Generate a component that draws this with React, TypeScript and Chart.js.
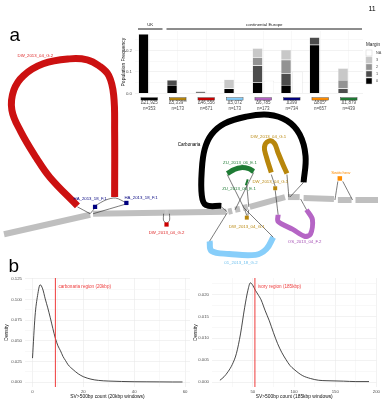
import React, { useEffect, useRef } from "react";
import { Chart, registerables } from "chart.js";
Chart.register(...registerables);

const FONT = "'Liberation Sans', Arial, sans-serif";
const GRID_MAJOR = "#e4e4e4";
const GRID_MINOR = "#f1f1f1";
const AXIS_TEXT = "#4d4d4d";

// ---------------- Panel a: population frequency bars ----------------
const SV_LABELS = ["Δ21,925", "Δ5,339**", "Δ46,556", "Δ5,072", "Δ6,785", "Δ399", "Δ805*", "Δ1,879"];
const SV_N = ["n=353", "n=173", "n=671", "n=173", "n=173", "n=734", "n=657", "n=439"];
const SV_COLORS = ["#000000", "#b8860b", "#cc0000", "#87cefa", "#b565c5", "#00007f", "#ff8c00", "#1e7b34"];
const MARGIN_0 = [0.278, 0.039, 0.006, 0.023, 0.052, 0.039, 0.227, 0];
const MARGIN_1 = [0, 0.023, 0.002, 0, 0.078, 0.055, 0.036, 0.023];
const MARGIN_2 = [0, 0, 0, 0, 0.039, 0.063, 0, 0.039];
const MARGIN_3 = [0, 0, 0, 0.042, 0.042, 0.047, 0, 0.055];
const MARGIN_NA = [0, 0, 0, 0, 0.059, 0.101, 0.003, 0];
const FREQ_MAJOR = [0, 0.1, 0.2];
const FREQ_MINOR = [0.05, 0.15, 0.25];
const REGIONS = [
  { label: "UK", from: 0, to: 0 },
  { label: "continental Europe", from: 1, to: 7 },
];
const MARGIN_LEGEND = [
  { label: "NA", color: "#ffffff" },
  { label: "3", color: "#c8c8c8" },
  { label: "2", color: "#939393" },
  { label: "1", color: "#4d4d4d" },
  { label: "0", color: "#000000" },
];

// ---------------- Panel a: graph illustration (drawing units) ----------------
const GRAY = "#bfbfbf";
const BACKBONE = [
  [0, 235, 88, 215],
  [91, 214, 227, 212],
  [229, 212, 233, 211],
  [236, 210, 241, 209],
  [244, 208, 249, 207],
  [251, 207, 287, 197],
  [290, 197, 302, 197],
  [306, 198, 337, 199],
  [341, 200, 355, 200],
  [359, 200, 382, 200],
];
const RED_LOOP = [75, 206, 47, 177, 33, 157, 17, 130, 8, 108, 10, 88, 20, 73, 40, 61, 67, 56, 85, 57, 97, 63, 107, 73, 112, 93, 113, 130, 113, 197];
const CARBONARIA = [222, 206, 206, 205, 202, 195, 202, 170, 205, 148, 212, 133, 225, 122, 247, 115, 270, 113, 289, 119, 302, 133, 308, 155, 306, 182];
const GOLD_HAIRPIN = [273, 172, 268, 156, 266, 146, 270, 140, 276, 142, 280, 152, 285, 164, 289, 173];
const GREEN_ARC = [228, 173, 235, 169, 242, 167, 250, 168, 255, 171];
const GREEN_SMALL = [247, 185, 249, 179];
const BLUE_LOOP = [210, 242, 212, 252, 230, 255, 257, 256, 268, 250, 275, 238];
const PURPLE_LOOP = [280, 215, 280, 222, 295, 230, 307, 237, 313, 235, 315, 220, 309, 210];
const THIN_LINKS = [
  [75, 207, 88, 214],
  [88, 214, 93, 208],
  [93, 206, 104, 200, 114, 198, 125, 203],
  [125, 204, 91, 214],
  [163, 214, 163, 221, 166, 224],
  [169, 214, 169, 221, 166, 224],
  [222, 207, 228, 212],
  [306, 182, 292, 197],
  [289, 174, 291, 197],
  [273, 174, 277, 186],
  [277, 190, 280, 215],
  [210, 242, 228, 213],
  [275, 238, 245, 208],
  [309, 210, 303, 199],
  [228, 174, 245, 208],
  [255, 172, 236, 210],
  [248, 185, 250, 207],
  [246, 210, 248, 216],
  [250, 210, 249, 216],
  [338, 200, 341, 181],
  [346, 181, 356, 200],
];
const NODES = [
  { x: 93, y: 207, r: 3, c: "#00007f" },
  { x: 125, y: 203, r: 3, c: "#00007f" },
  { x: 166, y: 212, r: 2.5, c: "#c8c8c8" },
  { x: 166, y: 225, r: 3, c: "#cc0000" },
  { x: 277, y: 188, r: 2.8, c: "#b8860b" },
  { x: 248, y: 218, r: 2.8, c: "#b8860b" },
  { x: 343, y: 178, r: 3.2, c: "#ff8c00" },
];
const GRAPH_LABELS = [
  { t: "DW_2013_04_G.2", x: 32, y: 53, c: "#dd2222", s: 4.3 },
  { t: "HA_2013_18_F.1", x: 88, y: 199, c: "#00007f", s: 4.3 },
  { t: "HA_2013_18_F.1", x: 140, y: 198, c: "#00007f", s: 4.3 },
  { t: "DW_2013_04_G.2", x: 166, y: 233, c: "#dd2222", s: 4.3 },
  { t: "Carbonaria", x: 189, y: 144, c: "#000000", s: 4.6 },
  { t: "DW_2013_04_G.1", x: 270, y: 136, c: "#b8860b", s: 4.3 },
  { t: "ZU_2013_06_E.1", x: 241, y: 162, c: "#1e7b34", s: 4.3 },
  { t: "DW_2013_04_G.1", x: 272, y: 181, c: "#b8860b", s: 4.3 },
  { t: "ZU_2013_06_E.1", x: 240, y: 189, c: "#1e7b34", s: 4.3 },
  { t: "DW_2013_04_G.1", x: 248, y: 227, c: "#b8860b", s: 4.3 },
  { t: "01_2013_18_G.2", x: 242, y: 264, c: "#6cbfee", s: 4.3 },
  { t: "OS_2013_04_F.2", x: 307, y: 243, c: "#a34db3", s: 4.3 },
  { t: "Swiitchew", x: 344, y: 172, c: "#ff8c00", s: 4.3 },
];
const PAGE_TEXT = [
  { t: "a", x: 11, y: 32, size: 19 },
  { t: "b", x: 10, y: 268, size: 19 },
  { t: "11", x: 376, y: 5, size: 7 },
];

// ---------------- Panel b: densities ----------------
const CARB_X = [0, 1, 2, 3, 4, 5, 6, 7, 8, 9, 10, 11, 12, 13, 14, 16, 18, 20, 23, 26, 30, 35, 40, 45, 50, 55, 59];
const CARB_Y = [0.029, 0.08, 0.105, 0.118, 0.113, 0.101, 0.09, 0.078, 0.065, 0.053, 0.044, 0.038, 0.031, 0.026, 0.021, 0.015, 0.01, 0.0065, 0.0035, 0.002, 0.0012, 0.0007, 0.0004, 0.0003, 0.0002, 0.0001, 0.0001];
const CARB_REGION = 9;
const IVORY_X = [10, 15, 20, 25, 30, 35, 40, 44, 47, 50, 53, 56, 60, 65, 70, 75, 80, 85, 90, 95, 100, 110, 120, 130, 140, 160, 175, 191];
const IVORY_Y = [0.0004, 0.0012, 0.0024, 0.004, 0.0065, 0.011, 0.017, 0.021, 0.0227, 0.0221, 0.021, 0.0201, 0.0188, 0.0163, 0.014, 0.0113, 0.0088, 0.0068, 0.0052, 0.0038, 0.0029, 0.0015, 0.0008, 0.0004, 0.0003, 0.0002, 0.0001, 0.0001];
const IVORY_REGION = 52.5;

const pts = (a: number[]) => {
  const r: { x: number; y: number }[] = [];
  for (let i = 0; i < a.length; i += 2) r.push({ x: a[i], y: a[i + 1] });
  return r;
};

function illustrationConfig(): any {
  const datasets: any[] = [];
  const path = (arr: number[], color: string, width: number, tension: number, order: number) =>
    datasets.push({
      data: pts(arr), showLine: true, borderColor: color, borderWidth: width, pointRadius: 0,
      tension, borderCapStyle: "butt", borderJoinStyle: "round", fill: false, order,
    });
  BACKBONE.forEach((s) => path(s, GRAY, 6, 0, 5));
  path(RED_LOOP, "#cc1111", 7, 0.4, 4);
  path(CARBONARIA, "#000000", 6, 0.4, 4);
  path(GOLD_HAIRPIN, "#b8860b", 5, 0.4, 4);
  path(GREEN_ARC, "#1e7b34", 5, 0.4, 4);
  path(GREEN_SMALL, "#1e7b34", 2, 0, 4);
  path(BLUE_LOOP, "#87cefa", 6, 0.4, 4);
  path(PURPLE_LOOP, "#b565c5", 5, 0.3, 4);
  THIN_LINKS.forEach((s) => path(s, "#222222", 0.6, 0.3, 3));
  NODES.forEach((n) =>
    datasets.push({ data: [{ x: n.x, y: n.y }], showLine: false, pointStyle: "rect", pointRadius: n.r, backgroundColor: n.c, borderColor: n.c, borderWidth: 0, order: 1 })
  );
  const labelPlugin = {
    id: "graphLabels",
    afterDatasetsDraw(chart: any) {
      const { ctx, scales } = chart;
      ctx.save();
      ctx.textAlign = "center";
      ctx.textBaseline = "middle";
      GRAPH_LABELS.forEach((l) => {
        ctx.font = `${l.s}px ${FONT}`;
        ctx.fillStyle = l.c;
        ctx.fillText(l.t, scales.x.getPixelForValue(l.x), scales.y.getPixelForValue(l.y));
      });
      ctx.fillStyle = "#000";
      PAGE_TEXT.forEach((l) => {
        ctx.font = `${l.size}px ${FONT}`;
        ctx.fillText(l.t, scales.x.getPixelForValue(l.x), scales.y.getPixelForValue(l.y));
      });
      ctx.restore();
    },
  };
  return {
    type: "scatter",
    data: { datasets },
    options: {
      animation: false, responsive: false, clip: false,
      layout: { padding: 0 },
      scales: {
        x: { type: "linear", min: 0, max: 382, display: false },
        y: { type: "linear", min: 0, max: 400, reverse: true, display: false },
      },
      plugins: { legend: { display: false }, tooltip: { enabled: false } },
      datasets: { scatter: { clip: false } },
    },
    plugins: [labelPlugin],
  };
}

function barConfig(): any {
  const extras = {
    id: "barExtras",
    afterDraw(chart: any) {
      const { ctx, chartArea, scales } = chart;
      const x = scales.x;
      const half = (x.getPixelForValue(1) - x.getPixelForValue(0)) / 2;
      ctx.save();
      SV_COLORS.forEach((c, i) => {
        const cx = x.getPixelForValue(i);
        ctx.fillStyle = c;
        ctx.fillRect(cx - 8.3, chartArea.bottom + 4.4, 16.6, 2.4);
        ctx.strokeStyle = "#333";
        ctx.lineWidth = 0.4;
        ctx.strokeRect(cx - 8.3, chartArea.bottom + 4.4, 16.6, 2.4);
      });
      REGIONS.forEach((g) => {
        const x0 = x.getPixelForValue(g.from) - half + 3;
        const x1 = x.getPixelForValue(g.to) + half - 1;
        ctx.strokeStyle = "#000";
        ctx.lineWidth = 0.9;
        ctx.beginPath();
        ctx.moveTo(x0, chartArea.top - 2);
        ctx.lineTo(x1, chartArea.top - 2);
        ctx.stroke();
        ctx.fillStyle = "#222";
        ctx.font = `4.4px ${FONT}`;
        ctx.textAlign = "center";
        ctx.textBaseline = "middle";
        ctx.fillText(g.label, (x0 + x1) / 2, chartArea.top - 6);
      });
      const lx = chartArea.right + 3;
      ctx.textAlign = "left";
      ctx.textBaseline = "middle";
      ctx.fillStyle = "#222";
      ctx.font = `4.6px ${FONT}`;
      ctx.fillText("Margin", lx, chartArea.top + 14);
      MARGIN_LEGEND.forEach((m, i) => {
        const y = chartArea.top + 19 + i * 7;
        ctx.fillStyle = m.color;
        ctx.fillRect(lx, y, 6, 6);
        ctx.strokeStyle = "#cfcfcf";
        ctx.lineWidth = 0.5;
        ctx.strokeRect(lx, y, 6, 6);
        ctx.fillStyle = AXIS_TEXT;
        ctx.font = `3.8px ${FONT}`;
        ctx.fillText(m.label, lx + 10, y + 3);
      });
      ctx.restore();
    },
  };
  const seg = (label: string, data: number[], color: string, stack: string, border = "#e9e9e9") => ({
    label, data, backgroundColor: color, borderColor: border, borderWidth: 0.5, stack,
    categoryPercentage: 0.8, barPercentage: 0.9,
  });
  return {
    type: "bar",
    data: {
      labels: SV_LABELS.map((l, i) => [l, SV_N[i]]),
      datasets: [
        seg("0", MARGIN_0, "#000000", "sv"),
        seg("1", MARGIN_1, "#4d4d4d", "sv"),
        seg("2", MARGIN_2, "#939393", "sv"),
        seg("3", MARGIN_3, "#c8c8c8", "sv"),
        seg("NA", MARGIN_NA, "#ffffff", "na", "#cfcfcf"),
      ],
    },
    options: {
      animation: false, responsive: false,
      layout: { padding: { left: 9, right: 19, top: 17, bottom: 0 } },
      plugins: { legend: { display: false }, tooltip: { enabled: false } },
      scales: {
        x: {
          stacked: true,
          grid: { color: GRID_MINOR, lineWidth: 0.5, offset: false, drawTicks: false },
          border: { display: false },
          ticks: { font: { size: 4.5, family: FONT, lineHeight: 1.3 }, color: AXIS_TEXT, padding: 7, autoSkip: false, maxRotation: 0 },
          afterFit(s: any) { s.height = 22.7; },
        },
        y: {
          stacked: true, min: 0, max: 0.292,
          afterBuildTicks(s: any) { s.ticks = [...FREQ_MAJOR, ...FREQ_MINOR].sort((a, b) => a - b).map((v) => ({ value: v })); },
          ticks: {
            font: { size: 4.4, family: FONT }, color: AXIS_TEXT, padding: 3,
            callback: (v: number) => (FREQ_MAJOR.some((m) => Math.abs(m - v) < 1e-9) ? v.toFixed(1) : ""),
          },
          grid: {
            drawTicks: false, lineWidth: 0.5,
            color: (c: any) => (FREQ_MAJOR.some((m) => Math.abs(m - c.tick.value) < 1e-9) ? GRID_MAJOR : GRID_MINOR),
          },
          border: { display: false },
          title: { display: true, text: "Population Frequency", font: { size: 5, family: FONT }, color: "#111", padding: 0 },
          afterFit(s: any) { s.width = 14; },
        },
      },
    },
    plugins: [extras],
  };
}

function densityConfig(p: {
  xs: number[]; ys: number[]; xMin: number; xMax: number; yMin: number; yMax: number;
  xMajor: number[]; xMinor: number[]; yMajor: number[]; yMinor: number[];
  region: number; regionLabel: string; xTitle: string; padLeft: number; yWidth: number; padRight: number;
}): any {
  const isIn = (arr: number[], v: number) => arr.some((m) => Math.abs(m - v) < 1e-9);
  const vline = {
    id: "vline",
    afterDatasetsDraw(chart: any) {
      const { ctx, chartArea, scales } = chart;
      const px = scales.x.getPixelForValue(p.region);
      ctx.save();
      ctx.strokeStyle = "#ee3b3b";
      ctx.lineWidth = 1;
      ctx.beginPath();
      ctx.moveTo(px, chartArea.top);
      ctx.lineTo(px, chartArea.bottom);
      ctx.stroke();
      ctx.fillStyle = "#ee3b3b";
      ctx.font = `4.6px ${FONT}`;
      ctx.textAlign = "left";
      ctx.textBaseline = "middle";
      ctx.fillText(p.regionLabel, px + 3, chartArea.top + 8.5);
      ctx.restore();
    },
  };
  return {
    type: "scatter",
    data: {
      datasets: [{
        data: p.xs.map((x, i) => ({ x, y: p.ys[i] })), showLine: true, borderColor: "#1a1a1a",
        borderWidth: 0.8, pointRadius: 0, tension: 0.35, cubicInterpolationMode: "monotone",
      }],
    },
    options: {
      animation: false, responsive: false,
      layout: { padding: { left: p.padLeft, right: p.padRight, top: 10, bottom: 0 } },
      plugins: { legend: { display: false }, tooltip: { enabled: false } },
      scales: {
        x: {
          type: "linear", min: p.xMin, max: p.xMax,
          afterBuildTicks(s: any) { s.ticks = [...p.xMajor, ...p.xMinor].sort((a, b) => a - b).map((v) => ({ value: v })); },
          ticks: { font: { size: 4.3, family: FONT }, color: AXIS_TEXT, padding: 2, callback: (v: number) => (isIn(p.xMajor, v) ? String(v) : "") },
          grid: { drawTicks: false, lineWidth: 0.5, color: (c: any) => (isIn(p.xMajor, c.tick.value) ? GRID_MAJOR : GRID_MINOR) },
          border: { display: false },
          title: { display: true, text: p.xTitle, font: { size: 4.9, family: FONT }, color: "#111", padding: 0 },
          afterFit(s: any) { s.height = 13; },
        },
        y: {
          type: "linear", min: p.yMin, max: p.yMax,
          afterBuildTicks(s: any) { s.ticks = [...p.yMajor, ...p.yMinor].sort((a, b) => a - b).map((v) => ({ value: v })); },
          ticks: { font: { size: 4.3, family: FONT }, color: AXIS_TEXT, padding: 3, callback: (v: number) => (isIn(p.yMajor, v) ? v.toFixed(3) : "") },
          grid: { drawTicks: false, lineWidth: 0.5, color: (c: any) => (isIn(p.yMajor, c.tick.value) ? GRID_MAJOR : GRID_MINOR) },
          border: { display: false },
          title: { display: true, text: "Density", font: { size: 4.9, family: FONT }, color: "#111", padding: 0 },
          afterFit(s: any) { s.width = p.yWidth; },
        },
      },
    },
    plugins: [vline],
  };
}

const leftDensity = () =>
  densityConfig({
    xs: CARB_X, ys: CARB_Y, xMin: -2.95, xMax: 61.95, yMin: -0.006, yMax: 0.1262,
    xMajor: [0, 20, 40, 60], xMinor: [10, 30, 50],
    yMajor: [0, 0.025, 0.05, 0.075, 0.1, 0.125], yMinor: [0.0125, 0.0375, 0.0625, 0.0875, 0.1125],
    region: CARB_REGION, regionLabel: "carbonaria region (20kbp)", xTitle: "SV>500bp count (20kbp windows)",
    padLeft: 4, yWidth: 21, padRight: 2,
  });

const rightDensity = () =>
  densityConfig({
    xs: IVORY_X, ys: IVORY_Y, xMin: 0.4, xMax: 200, yMin: -0.00114, yMax: 0.0238,
    xMajor: [50, 100, 150, 200], xMinor: [25, 75, 125, 175],
    yMajor: [0, 0.005, 0.01, 0.015, 0.02], yMinor: [0.0025, 0.0075, 0.0125, 0.0175, 0.0225],
    region: IVORY_REGION, regionLabel: "ivory region (185kbp)", xTitle: "SV>500bp count (185kbp windows)",
    padLeft: 3, yWidth: 19, padRight: 4.6,
  });

function ChartBox({ left, top, w, h, config }: { left: number; top: number; w: number; h: number; config: () => any }) {
  const ref = useRef<HTMLCanvasElement>(null);
  useEffect(() => {
    const chart = new Chart(ref.current as HTMLCanvasElement, config());
    return () => chart.destroy();
  }, []);
  return <canvas ref={ref} width={w} height={h} style={{ position: "absolute", left, top, width: w, height: h }} />;
}

export default function App() {
  return (
    <div style={{ position: "absolute", left: 0, top: 0, width: 382, height: 400, background: "#fff", overflow: "hidden" }}>
      <ChartBox left={0} top={0} w={382} h={400} config={illustrationConfig} />
      <ChartBox left={112} top={14} w={270} h={102} config={barConfig} />
      <ChartBox left={0} top={268} w={192} h={132} config={leftDensity} />
      <ChartBox left={190} top={268} w={192} h={132} config={rightDensity} />
    </div>
  );
}
